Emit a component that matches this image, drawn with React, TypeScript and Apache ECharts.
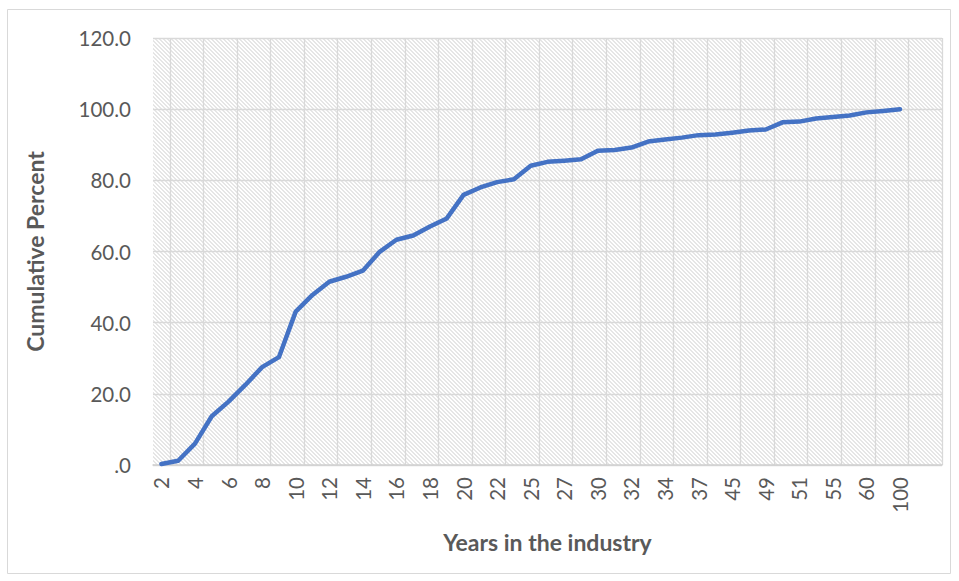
import React, { useEffect, useRef } from "react";
import * as echarts from "echarts";

// Years spent in the industry (category axis); odd slots carry no visible label
const years: string[] = [
  "2", "3", "4", "5", "6", "7", "8", "9", "10", "11",
  "12", "13", "14", "15", "16", "17", "18", "19", "20", "21",
  "22", "24", "25", "26", "27", "28", "30", "31", "32", "33",
  "34", "36", "37", "40", "45", "47", "49", "50", "51", "53",
  "55", "57", "60", "65", "100", "", "",
];

// Cumulative percent of respondents at each year value
const cumulativePercent: (number | null)[] = [
  0.3, 1.2, 6.0, 13.7, 17.8, 22.5, 27.5, 30.3, 43.1, 47.8,
  51.5, 52.9, 54.6, 59.9, 63.3, 64.5, 67.0, 69.3, 75.9, 78.0,
  79.5, 80.3, 84.1, 85.2, 85.5, 85.9, 88.3, 88.5, 89.2, 90.9,
  91.5, 92.0, 92.7, 92.9, 93.4, 94.0, 94.3, 96.3, 96.5, 97.4,
  97.8, 98.2, 99.1, 99.5, 100.0, null, null,
];

// Value-axis tick labels, bottom to top
const yTickLabels: string[] = [".0", "20.0", "40.0", "60.0", "80.0", "100.0", "120.0"];

const FONT = "Lato, 'Open Sans', sans-serif";
const TEXT = "#595959";
const GRID = "#d9d9d9";

// Light downward-diagonal hatch used as the plot-area fill
function makeHatch(): string {
  const c = document.createElement("canvas");
  c.width = 4;
  c.height = 4;
  const ctx = c.getContext("2d")!;
  ctx.fillStyle = "#ffffff";
  ctx.fillRect(0, 0, 4, 4);
  ctx.fillStyle = "#e6e6e6";
  for (let y = 0; y < 4; y++) {
    for (let x = 0; x < 4; x++) {
      const d = (((x - y) % 4) + 4) % 4;
      if (d === 0 || d === 1) ctx.fillRect(x, y, 1, 1);
    }
  }
  return c.toDataURL("image/png");
}

export default function App() {
  const ref = useRef<HTMLDivElement>(null);

  useEffect(() => {
    if (!ref.current) return;
    const chart = echarts.init(ref.current, undefined, { renderer: "svg" });

    chart.setOption({
      animation: false,
      backgroundColor: "#ffffff",
      textStyle: { fontFamily: FONT },
      graphic: [
        {
          type: "rect",
          shape: { x: 7.5, y: 9.5, width: 943, height: 564 },
          style: { fill: "none", stroke: GRID, lineWidth: 1 },
          silent: true,
        },
      ],
      grid: {
        left: 153,
        right: 17,
        top: 38,
        bottom: 116,
        show: true,
        borderWidth: 0,
        backgroundColor: { image: makeHatch(), repeat: "repeat" },
      },
      xAxis: {
        type: "category",
        data: years,
        boundaryGap: true,
        name: "Years in the industry",
        nameLocation: "middle",
        nameGap: 65,
        nameTextStyle: { color: TEXT, fontSize: 23, fontWeight: "bold", fontFamily: FONT },
        axisLine: { show: true, lineStyle: { color: "#d0d0d0", width: 1.5 } },
        axisTick: { show: false },
        axisLabel: {
          interval: 1,
          rotate: 90,
          margin: 12,
          color: TEXT,
          fontSize: 20.5,
          fontFamily: FONT,
        },
        splitLine: {
          show: true,
          interval: (i: number) => i % 2 === 1,
          lineStyle: { color: GRID, width: 1.3 },
        },
      },
      yAxis: {
        type: "value",
        min: 0,
        max: 120,
        interval: 20,
        name: "Cumulative Percent",
        nameLocation: "middle",
        nameGap: 107,
        nameTextStyle: { color: TEXT, fontSize: 23, fontWeight: "bold", fontFamily: FONT },
        axisLine: { show: false },
        axisTick: { show: false },
        axisLabel: {
          margin: 22,
          color: TEXT,
          fontSize: 20.5,
          fontFamily: FONT,
          formatter: (v: number) => yTickLabels[Math.round(v / 20)] ?? "",
        },
        splitLine: { show: true, lineStyle: { color: GRID, width: 1.3 } },
      },
      series: [
        {
          type: "line",
          data: cumulativePercent,
          showSymbol: false,
          symbol: "none",
          connectNulls: false,
          lineStyle: { color: "#4472C4", width: 4.5, cap: "round", join: "round" },
          itemStyle: { color: "#4472C4" },
        },
      ],
    });

    return () => chart.dispose();
  }, []);

  return (
    <div
      ref={ref}
      style={{ position: "fixed", left: 0, top: 0, width: 959, height: 581 }}
    />
  );
}
